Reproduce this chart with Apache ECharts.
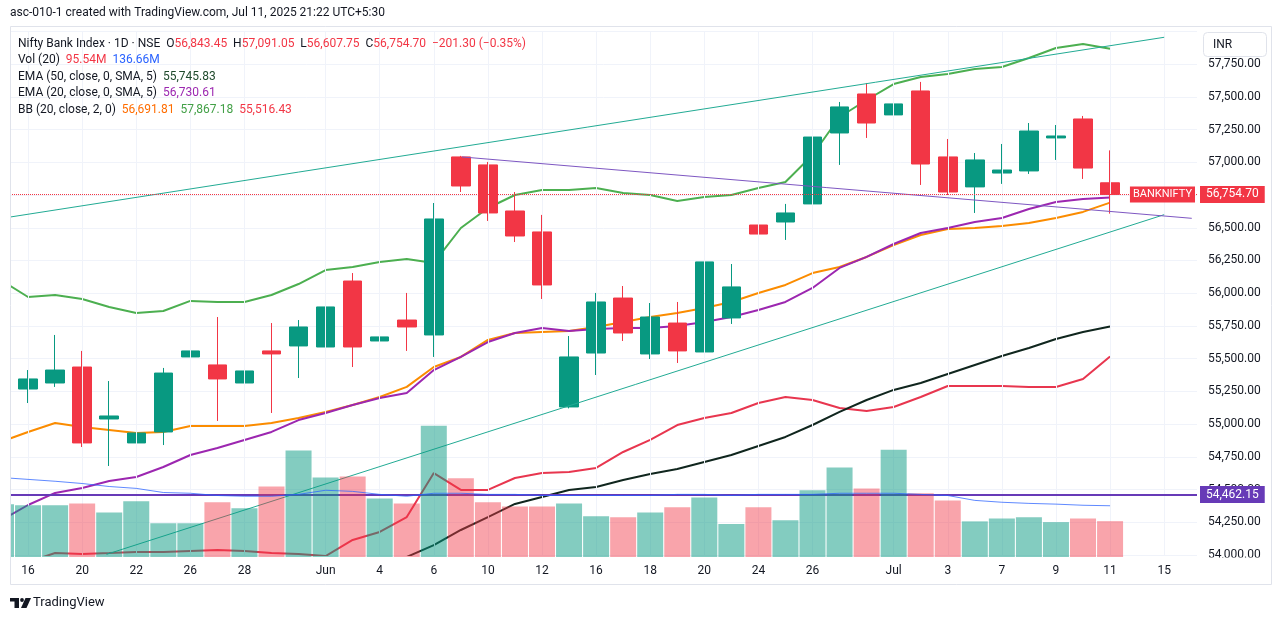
<!DOCTYPE html>
<html>
<head>
<meta charset="utf-8">
<script src="https://cdn.jsdelivr.net/npm/echarts@6/dist/echarts.min.js"></script>
<style>
html,body{margin:0;padding:0;background:#fff;}
#c{width:1281px;height:621px;}
</style>
</head>
<body>
<div id="c"></div>
<script>
// ---------- DATA ----------
const dateLabels = ['15','16','19','20','21','22','23','26','27','28','29','30','Jun','3','4','5','6','9','10','11','12','13','16','17','18','19','20','23','24','25','26','27','30','Jul','2','3','4','7','8','9','10','11','14','15','16'];
const tickIdx = [1,3,5,7,9,12,14,16,18,20,22,24,26,28,30,33,35,37,39,41,43];

const opens  = [54840,55268,55314,55436,55039,54856,54940,55513,55452,55314,55559,55597,55589,56093,55635,55795,55681,57041,56980,56628,56468,55131,55543,55963,55536,55772,55551,55811,56521,56544,56682,57224,57522,57362,57545,57041,56812,56918,56934,57186,57331,56843.45];
const highs  = [55350,55413,55681,55559,55329,54993,55429,55864,55818,55513,55772,55795,55956,56154,55788,56002,56689,57049,57003,56773,56598,55673,56002,56055,55925,55933,56315,56223,56842,56682,57262,57461,57606,57522,57614,57178,57071,57140,57300,57285,57354,57091.05];
const lows   = [54830,55161,55284,54825,54680,54565,54840,55299,55024,55222,55085,55352,55390,55436,55398,55559,55513,56773,56552,56391,55956,55120,55375,55635,55497,55467,55545,55765,56261,56407,56537,56980,57186,57148,56827,56750,56613,56835,56911,57018,56873,56607.75];
const closes = [55340,55345,55413,54856,55062,54932,55390,55559,55345,55406,55536,55742,55895,55589,55666,55742,56567,56819,56613,56437,56063,55513,55933,55696,55818,55559,56239,56048,56452,56613,57193,57423,57300,57446,56987,56773,57018,56941,57239,57201,56956,56754.70];

const volumes = [140.6,138,138,143,119,148.5,90,90,146,130,188,284,212,215,156,143,350,210,146,135,135,143,109,106,119,133,159,88,133,98,178,239,183,286,170,151,95,103,106,93,103,95.54];
const volMA   = [212,207,202,196,188,183,172,170,164,162,162,167,178,175,167,162,170,170,167,167,164,164,164,164,164,167,167,164,167,167,167,170,170,170,167,164,151,146,143,141,138,136.66];

const bbUpper = [56100,55971,55986,55956,55895,55849,55864,55941,55933,55933,55986,56070,56177,56200,56239,56261,56231,56498,56651,56750,56789,56789,56804,56766,56750,56705,56735,56750,56804,56850,57056,57346,57476,57598,57652,57675,57713,57728,57797,57873,57904,57867.18];
const bbBasis = [54865,54940,55008,54978,54955,54932,54940,54986,54986,54986,55008,55047,55093,55146,55207,55284,55436,55513,55643,55696,55704,55711,55742,55780,55818,55849,55887,55933,56002,56063,56154,56200,56277,56368,56445,56491,56498,56514,56536,56575,56621,56691.81];
const bbLower = [53847,53947,54015,54008,54015,54023,54023,54031,54038,54031,54015,54008,53992,54115,54176,54290,54626,54497,54497,54588,54626,54634,54665,54787,54879,54993,55047,55085,55161,55207,55184,55123,55100,55131,55207,55291,55291,55291,55284,55284,55345,55516.43];
const ema20   = [54265,54382,54474,54512,54565,54596,54672,54764,54817,54879,54940,55031,55085,55146,55199,55238,55413,55513,55627,55696,55734,55711,55727,55734,55734,55750,55780,55818,55872,55933,56040,56193,56277,56376,56460,56498,56544,56575,56643,56697,56720,56730.61];
const ema50   = [null,null,null,null,null,null,null,null,null,null,null,null,null,null,53893,53985,54076,54191,54290,54390,54443,54497,54520,54573,54619,54657,54711,54764,54833,54902,54993,55093,55184,55261,55314,55383,55452,55520,55581,55650,55704,55745.83];

const hLevel = 54462.15;
const upperChannel = [[0.34,56582],[43,57955]];
const lowerChannel = [[3.9,54005],[43,56600]];
const resistanceLine = [[17.04,57041],[44.02,56572]];

const priceTicks = {min:54000, max:58000, step:250};
const volRange = {min:0, max:400};
const X_MIN = 0.3327, X_MAX = 44.214;

// ---------- HELPERS ----------
const DARK = '#131722', RED = '#f23645', GREEN = '#089981';
const fmt = v => v.toLocaleString('en-US',{minimumFractionDigits:2,maximumFractionDigits:2});
const pair = arr => arr.map((v,i)=>[i,v]);
const last = closes.length - 1;
const lastPrice = closes[last];
const chg = lastPrice - closes[last-1];
const chgPct = chg / closes[last-1] * 100;
const sgn = v => (v < 0 ? '\u2212' : '+') + Math.abs(v).toFixed(2);

const candleData = closes.map((c,i)=>[i, opens[i], c, lows[i], highs[i]]);
const volData = volumes.map((v,i)=>({value:[i,v], itemStyle:{color: closes[i] >= opens[i] ? 'rgba(8,153,129,0.5)' : 'rgba(242,54,69,0.45)'}}));
const bbRange = bbUpper.map((u,i)=>[i, u - bbLower[i]]);

const richBase = {fontSize:12, fontFamily:'Roboto'};
const rich = {
  d: Object.assign({fill:DARK}, richBase),
  r: Object.assign({fill:RED}, richBase),
  b: Object.assign({fill:'#2962ff'}, richBase),
  k: Object.assign({fill:'#1f4a2c'}, richBase),
  p: Object.assign({fill:'#9c27b0'}, richBase),
  o: Object.assign({fill:'#ff6d00'}, richBase),
  g: Object.assign({fill:'#43a047'}, richBase)
};
const legendLines = [
  `{d|Nifty Bank Index · 1D · NSE}  {d|O}{r|${fmt(opens[last])}}  {d|H}{r|${fmt(highs[last])}}  {d|L}{r|${fmt(lows[last])}}  {d|C}{r|${fmt(closes[last])}}  {r|${sgn(chg)} (${sgn(chgPct)}%)}`,
  `{d|Vol (20)}  {r|${volumes[last].toFixed(2)}M}  {b|${volMA[last].toFixed(2)}M}`,
  `{d|EMA (50, close, 0, SMA, 5)}  {k|${fmt(ema50[last])}}`,
  `{d|EMA (20, close, 0, SMA, 5)}  {p|${fmt(ema20[last])}}`,
  `{d|BB (20, close, 2, 0)}  {o|${fmt(bbBasis[last])}}  {g|${fmt(bbUpper[last])}}  {r|${fmt(bbLower[last])}}`
];

const graphics = [
  {type:'rect', silent:true, z:100, shape:{x:0,y:20,width:10,height:570}, style:{fill:'#fff'}},
  {type:'rect', silent:true, z:101, shape:{x:10.5,y:26.5,width:1261,height:558}, style:{fill:'none', stroke:'#e0e3eb', lineWidth:1}},
  {type:'text', silent:true, x:10, y:13, style:{text:'asc-010-1 created with TradingView.com, Jul 11, 2025 21:22 UTC+5:30', font:'12px Roboto', fill:DARK, verticalAlign:'middle'}},
  ...legendLines.map((t,k)=>({type:'text', silent:true, z:50, x:18, y:43.5 + k*16.5, style:{text:t, font:'12px Roboto', fill:DARK, verticalAlign:'middle', rich}})),
  {type:'rect', silent:true, z:100, shape:{x:1203.5,y:32.5,width:63,height:24,r:4}, style:{fill:'#fff', stroke:'#e0e3eb', lineWidth:1}},
  {type:'text', silent:true, z:101, x:1213, y:45, style:{text:'INR', font:'12px Roboto', fill:DARK, verticalAlign:'middle'}},
  {type:'rect', silent:true, z:100, shape:{x:1198,y:557.5,width:72,height:26.5}, style:{fill:'#fff'}},
  // TradingView logo
  {type:'polygon', silent:true, shape:{points:[[10,598],[19,598],[19,608],[14.5,608],[14.5,601.5],[10,601.5]]}, style:{fill:DARK}},
  {type:'circle', silent:true, shape:{cx:22,cy:600,r:1.9}, style:{fill:DARK}},
  {type:'polygon', silent:true, shape:{points:[[25.5,598],[31,598],[26.5,608],[21,608]]}, style:{fill:DARK}},
  {type:'text', silent:true, x:33, y:603, style:{text:'TradingView', font:'13px Roboto', fill:DARK, verticalAlign:'middle'}}
];

const lineS = (name, data, color, width) => ({
  name, type:'line', xAxisIndex:0, yAxisIndex:0, data: pair(data), showSymbol:false, symbol:'none',
  silent:true, clip:true, lineStyle:{color, width}, z:3
});

const option = {
  animation:false,
  backgroundColor:'#ffffff',
  textStyle:{fontFamily:'Roboto, sans-serif'},
  grid:[
    {left:10, right:84, top:31.4, bottom:66},
    {left:10, right:84, top:407, bottom:64}
  ],
  xAxis:[
    {type:'value', gridIndex:0, min:X_MIN, max:X_MAX,
     axisLine:{show:false}, axisTick:{show:false}, splitLine:{show:false},
     axisLabel:{customValues:tickIdx, formatter:v=>dateLabels[Math.round(v)], color:DARK, fontSize:12, margin:10}},
    {type:'value', gridIndex:1, min:X_MIN, max:X_MAX, show:false}
  ],
  yAxis:[
    {type:'value', gridIndex:0, position:'right', min:priceTicks.min, max:priceTicks.max, interval:priceTicks.step,
     axisLine:{show:false}, axisTick:{show:false},
     splitLine:{lineStyle:{color:'#f0f3fa', width:1}},
     axisLabel:{formatter:fmt, color:DARK, fontSize:12, margin:11, showMaxLabel:false}},
    {type:'value', gridIndex:1, min:volRange.min, max:volRange.max, show:false}
  ],
  graphic:{elements:graphics},
  series:[
    {name:'bbBase', type:'line', xAxisIndex:0, yAxisIndex:0, stack:'bb', data:pair(bbLower), symbol:'none', silent:true,
     lineStyle:{width:0, opacity:0}, z:1,
     markLine:{silent:true, symbol:['none','none'], label:{show:false}, lineStyle:{color:'#f0f3fa', width:1, type:'solid'},
       data: tickIdx.map(v=>({xAxis:v}))}},
    {name:'bbFill', type:'line', xAxisIndex:0, yAxisIndex:0, stack:'bb', data:bbRange, symbol:'none', silent:true,
     lineStyle:{width:0, opacity:0}, areaStyle:{color:'rgba(33,150,243,0.06)'}, z:1},
    lineS('BB lower', bbLower, '#e8364f', 2),
    lineS('BB upper', bbUpper, '#4caf50', 2),
    lineS('BB basis', bbBasis, '#fb8c00', 2),
    lineS('EMA50', ema50, '#10261e', 2),
    lineS('EMA20', ema20, '#9c27b0', 2),
    {name:'Nifty Bank', type:'candlestick', xAxisIndex:0, yAxisIndex:0, data:candleData, clip:true,
     encode:{x:0, y:[1,2,3,4]}, barWidth:19, silent:true, z:4,
     itemStyle:{color:GREEN, color0:RED, borderColor:GREEN, borderColor0:RED, borderWidth:1}},
    {name:'Volume', type:'bar', xAxisIndex:1, yAxisIndex:1, data:volData, barWidth:26, silent:true, clip:true, z:5},
    {name:'Vol MA', type:'line', xAxisIndex:1, yAxisIndex:1, data:pair(volMA), symbol:'none', showSymbol:false, silent:true,
     lineStyle:{color:'#2962ff', width:1, opacity:0.75}, z:6},
    {name:'overlay', type:'line', xAxisIndex:0, yAxisIndex:0, data:[[last, lastPrice]], symbol:'none', showSymbol:false, silent:true,
     lineStyle:{opacity:0}, z:7,
     markLine:{silent:true, symbol:['none','none'],
       data:[
         [{coord:upperChannel[0], lineStyle:{color:'#22ab94', width:1, type:'solid'}, label:{show:false}}, {coord:upperChannel[1]}],
         [{coord:lowerChannel[0], lineStyle:{color:'#22ab94', width:1, type:'solid'}, label:{show:false}}, {coord:lowerChannel[1]}],
         [{coord:resistanceLine[0], lineStyle:{color:'#7e57c2', width:1, type:'solid'}, label:{show:false}}, {coord:resistanceLine[1]}],
         {yAxis:hLevel, lineStyle:{color:'#673ab7', width:2, type:'solid'},
          label:{show:true, position:'end', distance:3, formatter:fmt(hLevel), color:'#fff', backgroundColor:'#673ab7', padding:[3,6,2,6], fontSize:12}},
         {yAxis:lastPrice, lineStyle:{color:RED, width:1, type:'dotted'},
          label:{show:true, position:'end', distance:3, formatter:fmt(lastPrice), color:'#fff', backgroundColor:RED, padding:[3,6,2,6], fontSize:12}}
       ]}}
  ]
};

const chart = echarts.init(document.getElementById('c'));
chart.setOption(option);
const p = chart.convertToPixel({xAxisIndex:0, yAxisIndex:0}, [X_MAX, lastPrice]);
chart.setOption({graphic:{elements:[
  {id:'bankLabel', type:'text', silent:true, z:120, x:p[0]-2, y:p[1],
   style:{text:'BANKNIFTY', font:'11px Roboto', fill:'#fff', backgroundColor:RED, padding:[3,3,2,3], align:'right', verticalAlign:'middle'}}
]}});
</script>
</body>
</html>
